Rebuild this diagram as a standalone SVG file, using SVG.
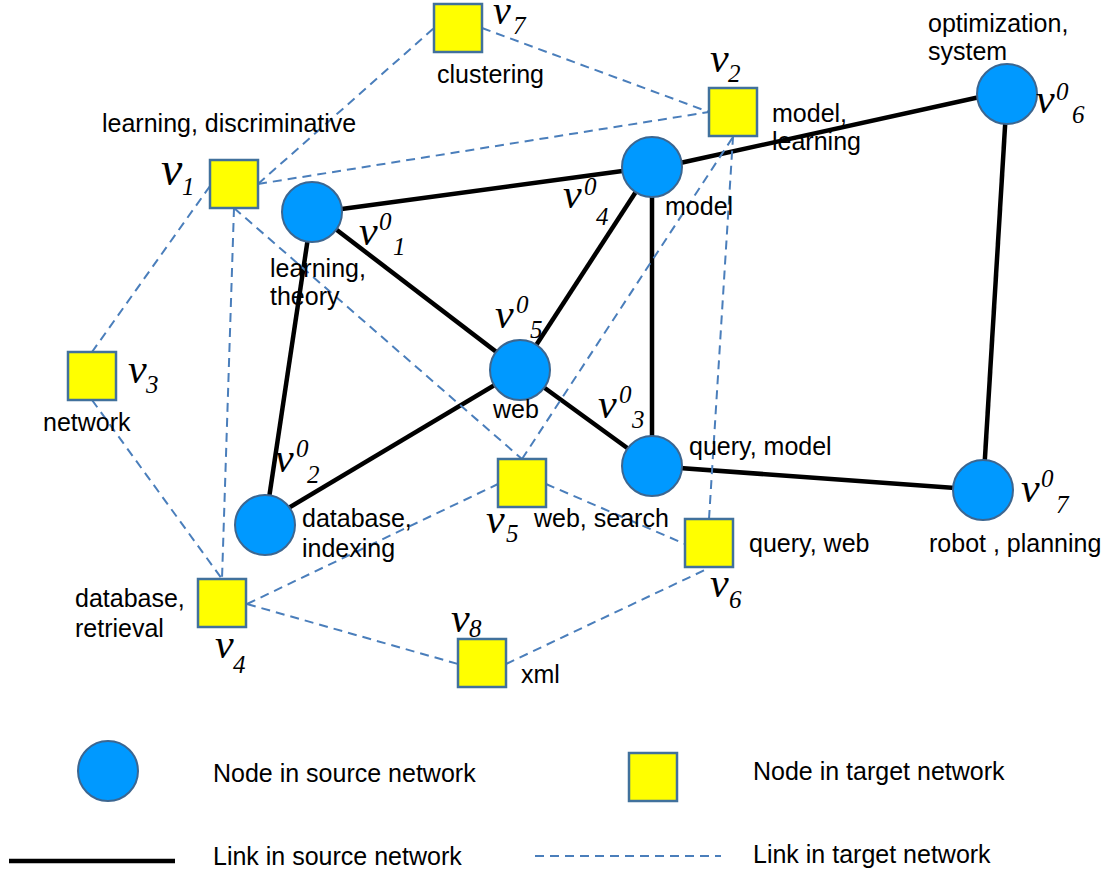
<svg xmlns="http://www.w3.org/2000/svg" width="1115" height="876" viewBox="0 0 1115 876">
<style>
.src{stroke:#000;stroke-width:4.5;fill:none;stroke-linecap:butt}
.tgt{stroke:#4A7EBB;stroke-width:2;stroke-dasharray:9 6;fill:none}
.cn{fill:#0099FF;stroke:#3C6690;stroke-width:2}
.sq{fill:#FFFF00;stroke:#41719C;stroke-width:2.5}
.lb{font-family:"Liberation Sans",Arial,sans-serif;font-size:25px;fill:#000}
.mv{font-family:"Liberation Serif","Times New Roman",serif;font-style:italic;font-size:42px;fill:#000}
.ms{font-family:"Liberation Serif","Times New Roman",serif;font-style:italic;font-size:25px;fill:#000}
</style>
<rect width="1115" height="876" fill="#fff"/>
<g id="connectors">
<g id="source-links">
<line class="src" x1="312" y1="213" x2="652" y2="167"/>
<line class="src" x1="312" y1="211" x2="520" y2="370"/>
<line class="src" x1="312" y1="211" x2="265" y2="525"/>
<line class="src" x1="680" y1="163" x2="1007" y2="91"/>
<line class="src" x1="652" y1="167" x2="520" y2="370"/>
<line class="src" x1="652" y1="167" x2="652" y2="466"/>
<line class="src" x1="520" y1="370" x2="265" y2="522"/>
<line class="src" x1="520" y1="370" x2="652" y2="466"/>
<line class="src" x1="652" y1="466" x2="983" y2="490"/>
<line class="src" x1="1007" y1="94" x2="983" y2="490"/>
</g>
<g id="target-links">
<line class="tgt" x1="258" y1="184" x2="434" y2="28"/>
<line class="tgt" x1="258" y1="184" x2="709" y2="112"/>
<line class="tgt" x1="482" y1="28" x2="709" y2="112"/>
<line class="tgt" x1="210" y1="186" x2="92" y2="352"/>
<line class="tgt" x1="234" y1="208" x2="222" y2="579"/>
<line class="tgt" x1="234" y1="208" x2="522" y2="459"/>
<line class="tgt" x1="92" y1="400" x2="222" y2="579"/>
<line class="tgt" x1="247" y1="604" x2="498" y2="484"/>
<line class="tgt" x1="247" y1="604" x2="458" y2="664"/>
<line class="tgt" x1="506" y1="664" x2="709" y2="568"/>
<line class="tgt" x1="546" y1="484" x2="685" y2="544"/>
<line class="tgt" x1="522" y1="459" x2="733" y2="137"/>
<line class="tgt" x1="709" y1="519" x2="733" y2="137"/>
</g>
</g>
<g id="v0_1"><circle class="cn" cx="312" cy="212" r="30"/></g>
<g id="v0_2"><circle class="cn" cx="265" cy="525" r="30"/></g>
<g id="v0_3"><circle class="cn" cx="652" cy="466" r="30"/></g>
<g id="v0_4"><circle class="cn" cx="652" cy="167" r="30"/></g>
<g id="v0_5"><circle class="cn" cx="520" cy="370" r="30"/></g>
<g id="v0_6"><circle class="cn" cx="1007" cy="94" r="30"/></g>
<g id="v0_7"><circle class="cn" cx="983" cy="490" r="30"/></g>
<g id="v_1"><rect class="sq" x="210" y="160" width="48" height="48"/></g>
<g id="v_2"><rect class="sq" x="709" y="88" width="48" height="48"/></g>
<g id="v_3"><rect class="sq" x="68" y="352" width="48" height="48"/></g>
<g id="v_4"><rect class="sq" x="198" y="579" width="48" height="48"/></g>
<g id="v_5"><rect class="sq" x="498" y="459" width="48" height="48"/></g>
<g id="v_6"><rect class="sq" x="685" y="519" width="48" height="48"/></g>
<g id="v_7"><rect class="sq" x="434" y="4" width="48" height="48"/></g>
<g id="v_8"><rect class="sq" x="458" y="639" width="48" height="48"/></g>
<g id="labels">
<text class="lb" x="102" y="132">learning, discriminative</text>
<text class="lb" x="437" y="83">clustering</text>
<text class="lb" x="772" y="122">model,</text>
<text class="lb" x="772" y="150">learning</text>
<text class="lb" x="928" y="32">optimization,</text>
<text class="lb" x="928" y="60">system</text>
<text class="lb" x="665" y="215">model</text>
<text class="lb" x="270" y="277">learning,</text>
<text class="lb" x="270" y="305">theory</text>
<text class="lb" x="43" y="431">network</text>
<text class="lb" x="493" y="418">web</text>
<text class="lb" x="534" y="527">web, search</text>
<text class="lb" x="689" y="455">query, model</text>
<text class="lb" x="749" y="552">query, web</text>
<text class="lb" x="929" y="552">robot , planning</text>
<text class="lb" x="302" y="527">database,</text>
<text class="lb" x="302" y="557">indexing</text>
<text class="lb" x="75" y="607">database,</text>
<text class="lb" x="75" y="637">retrieval</text>
<text class="lb" x="521" y="683">xml</text>
</g>
<g id="math">
<text class="mv" x="161" y="185" style="font-size:48px">v</text><text class="ms" x="182" y="195">1</text>
<text class="mv" x="493" y="24" style="font-size:40px">v</text><text class="ms" x="513" y="34">7</text>
<text class="mv" x="710" y="72">v</text><text class="ms" x="728" y="82">2</text>
<text class="mv" x="128" y="383">v</text><text class="ms" x="146" y="393">3</text>
<text class="mv" x="486" y="533">v</text><text class="ms" x="506" y="542">5</text>
<text class="mv" x="710" y="597">v</text><text class="ms" x="729" y="608">6</text>
<text class="mv" x="215" y="658">v</text><text class="ms" x="233" y="673">4</text>
<text class="mv" x="451" y="632">v</text><text class="ms" x="469" y="637">8</text>
<text class="mv" x="359" y="245">v</text><text class="ms" x="379" y="230">0</text><text class="ms" x="393" y="255">1</text>
<text class="mv" x="563" y="208">v</text><text class="ms" x="584" y="195">0</text><text class="ms" x="596" y="225">4</text>
<text class="mv" x="495" y="328">v</text><text class="ms" x="516" y="313">0</text><text class="ms" x="530" y="338">5</text>
<text class="mv" x="598" y="418">v</text><text class="ms" x="619" y="403">0</text><text class="ms" x="632" y="428">3</text>
<text class="mv" x="275" y="472">v</text><text class="ms" x="296" y="457">0</text><text class="ms" x="307" y="483">2</text>
<text class="mv" x="1036" y="113">v</text><text class="ms" x="1056" y="100">0</text><text class="ms" x="1072" y="123">6</text>
<text class="mv" x="1021" y="502">v</text><text class="ms" x="1041" y="487">0</text><text class="ms" x="1056" y="513">7</text>
</g>
<g id="legend">
<circle class="cn" cx="108" cy="771" r="30"/>
<text class="lb" x="213" y="782">Node in source network</text>
<rect class="sq" x="629" y="753" width="48" height="48"/>
<text class="lb" x="753" y="780">Node in target network</text>
<line class="src" x1="9" y1="861" x2="175" y2="861"/>
<text class="lb" x="213" y="865">Link in source network</text>
<line class="tgt" x1="535" y1="856" x2="721" y2="856"/>
<text class="lb" x="753" y="863">Link in target network</text>
</g>
</svg>
